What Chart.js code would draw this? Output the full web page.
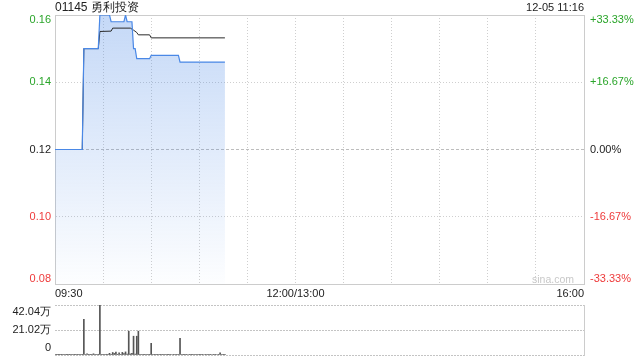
<!DOCTYPE html>
<html>
<head>
<meta charset="utf-8">
<script src="https://cdn.jsdelivr.net/npm/chart.js@4.4.0/dist/chart.umd.min.js"></script>
<style>
    body { margin: 0; background: #fff; font-family: "Liberation Sans", Arial, sans-serif; }
    #wrap { position: relative; width: 640px; height: 360px; overflow: hidden; }
    #priceBox { position: absolute; left: 0; top: 0; width: 640px; height: 300px; }
    #volBox { position: absolute; left: 0; top: 300px; width: 640px; height: 60px; }
    .title { position: absolute; left: 55px; top: 0; font-size: 12px; line-height: 14px; color: #222; }
    .stamp { position: absolute; right: 56px; top: 1px; font-size: 11px; line-height: 13px; color: #222; }
    .mark { position: absolute; left: 532px; top: 273px; font-size: 10.5px; line-height: 12px; color: #c8c8c8; }
</style>
</head>
<body>
<div id="wrap">
    <div id="priceBox"><canvas id="priceChart"></canvas></div>
    <div id="volBox"><canvas id="volumeChart"></canvas></div>
    <div class="title">01145 勇利投资</div>
    <div class="stamp">12-05 11:16</div>
    <div class="mark">sina.com</div>
</div>
<script>
// minutes since 09:30 (lunch break removed, 330 trading minutes)
const priceMinutes = [0, 17, 18, 27, 28, 34, 35, 43, 44, 45, 48, 49, 50, 51, 59, 60, 77, 78, 106];
const priceValues = [0.12, 0.12, 0.15, 0.15, 0.16, 0.16, 0.158, 0.158, 0.16, 0.158, 0.158, 0.15, 0.15, 0.147, 0.147, 0.148, 0.148, 0.146, 0.146];

const avgMinutes = [0, 17, 18, 27, 28, 35, 36, 47, 49, 51, 52, 59, 60, 106];
const avgValues = [0.12, 0.12, 0.15, 0.15, 0.1551, 0.1552, 0.1561, 0.1561, 0.1555, 0.1548, 0.1541, 0.1541, 0.1532, 0.1532];

// volume per minute, in 万 shares, 09:30 .. 11:16
const volumeValues = [
    0.5, 0.3, 0.2, 0.3, 0.2, 0.3, 0.4, 0.2, 0.3, 0.2,
    0.3, 0.4, 0.2, 0.3, 0.3, 0.2, 0.4, 0.3, 30.0, 0.4,
    0.9, 0.3, 0.3, 0.5, 1.0, 0.3, 0.4, 0.6, 42.04, 0.5,
    0.3, 0.4, 0.6, 0.3, 1.4, 0.5, 2.1, 1.3, 2.4, 0.6,
    1.9, 0.5, 2.2, 1.2, 2.6, 0.8, 20.0, 0.9, 1.3, 15.8,
    0.7, 15.8, 20.0, 0.6, 0.4, 0.5, 0.3, 0.4, 0.5, 0.3,
    9.8, 0.4, 0.3, 0.5, 0.3, 0.4, 0.3, 0.5, 0.3, 0.4,
    0.3, 0.3, 0.5, 0.4, 0.3, 0.4, 0.3, 0.5, 14.0, 0.4,
    0.3, 0.5, 0.3, 0.4, 0.3, 0.3, 0.5, 0.4, 0.3, 0.4,
    0.3, 0.5, 0.3, 0.4, 0.3, 0.4, 0.5, 0.3, 0.4, 0.3,
    0.3, 0.4, 0.3, 1.8, 0.4, 0.3, 0.5
];

const priceTicks = [0.08, 0.10, 0.12, 0.14, 0.16];
const priceLabels = ['0.08', '0.10', '0.12', '0.14', '0.16'];
const pctLabels = ['-33.33%', '-16.67%', '0.00%', '+16.67%', '+33.33%'];
const timeTicks = [0, 30, 60, 90, 120, 150, 180, 210, 240, 270, 300, 330];
const timeLabels = { 0: '09:30', 150: '12:00/13:00', 330: '16:00' };
const volumeTicks = [0, 21.02, 42.04];
const volumeLabels = ['0', '21.02万', '42.04万'];

const UP = '#2aa52a';
const DOWN = '#ee3b3b';
const FRAME = '#cccccc';
const DOTS = '#cfcfcf';

function toPoints(xs, ys) {
    return xs.map(function(x, i) { return { x: x, y: ys[i] }; });
}

// first/last labels get an empty extra line so they sit inside the frame
function edgeLabel(text, index, count) {
    if (index === 0) return [text, ''];
    if (index === count - 1) return ['', text];
    return text;
}

function tickColor(c) {
    if (c.index > 2) return UP;
    if (c.index < 2) return DOWN;
    return '#222';
}

// fixed axis width, and no extra room for the edge labels
function fixWidth(w) {
    return function(scale) {
        scale.width = w;
        scale.paddingTop = 0;
        scale.paddingBottom = 0;
    };
}

document.addEventListener('DOMContentLoaded', function() {
    Chart.defaults.font.family = '"Liberation Sans", Arial, sans-serif';
    Chart.defaults.font.size = 11;

    const priceCtx = document.getElementById('priceChart');
    new Chart(priceCtx, {
        type: 'line',
        data: {
            datasets: [
                {
                    label: 'price',
                    data: toPoints(priceMinutes, priceValues),
                    borderColor: '#4a88e6',
                    borderWidth: 1.2,
                    pointRadius: 0,
                    tension: 0,
                    fill: 'start',
                    order: 0,
                    backgroundColor: function(context) {
                        const area = context.chart.chartArea;
                        if (!area) return 'rgba(74,136,230,0.2)';
                        const g = context.chart.ctx.createLinearGradient(0, area.top, 0, area.bottom);
                        g.addColorStop(0, 'rgba(74,136,230,0.32)');
                        g.addColorStop(1, 'rgba(74,136,230,0.01)');
                        return g;
                    }
                },
                {
                    label: 'avg',
                    data: toPoints(avgMinutes, avgValues),
                    borderColor: '#2a2a2a',
                    borderWidth: 1,
                    pointRadius: 0,
                    tension: 0,
                    fill: false,
                    order: 1
                }
            ]
        },
        options: {
            responsive: true,
            maintainAspectRatio: false,
            animation: false,
            layout: { padding: { top: 15, left: 0, right: 0, bottom: 0 } },
            plugins: {
                legend: { display: false },
                tooltip: { enabled: false },
                filler: { drawTime: 'beforeDatasetsDraw' }
            },
            scales: {
                x: {
                    type: 'linear',
                    position: 'bottom',
                    min: 0,
                    max: 330,
                    afterBuildTicks: function(scale) {
                        scale.ticks = timeTicks.map(function(v) { return { value: v }; });
                    },
                    afterFit: function(scale) { scale.height = 16; },
                    ticks: {
                        autoSkip: false,
                        maxRotation: 0,
                        align: 'inner',
                        padding: 3,
                        color: '#222',
                        callback: function(value) { return timeLabels[value] || ''; }
                    },
                    grid: {
                        drawTicks: false,
                        color: DOTS,
                        lineWidth: 1
                    },
                    border: { color: FRAME, dash: [1, 2] }
                },
                xTop: {
                    type: 'linear',
                    position: 'top',
                    min: 0,
                    max: 330,
                    afterFit: function(scale) { scale.height = 0; },
                    ticks: { display: false },
                    grid: { display: false, drawTicks: false },
                    border: { color: FRAME }
                },
                y: {
                    position: 'left',
                    min: 0.08,
                    max: 0.16,
                    afterBuildTicks: function(scale) {
                        scale.ticks = priceTicks.map(function(v) { return { value: v }; });
                    },
                    afterFit: fixWidth(55),
                    ticks: {
                        autoSkip: false,
                        padding: 4,
                        font: { size: 11, lineHeight: 0.95 },
                        color: tickColor,
                        callback: function(value, index) { return edgeLabel(priceLabels[index], index, priceLabels.length); }
                    },
                    grid: {
                        drawTicks: false,
                        color: function(c) { return c.index === 2 ? '#bdbdbd' : DOTS; }
                    },
                    border: {
                        color: FRAME,
                        dash: function(c) { return c.index === 2 ? [3, 2] : [1, 2]; }
                    }
                },
                yPct: {
                    position: 'right',
                    min: 0.08,
                    max: 0.16,
                    afterBuildTicks: function(scale) {
                        scale.ticks = priceTicks.map(function(v) { return { value: v }; });
                    },
                    afterFit: fixWidth(56),
                    ticks: {
                        autoSkip: false,
                        padding: 6,
                        font: { size: 11, lineHeight: 0.95 },
                        color: tickColor,
                        callback: function(value, index) { return edgeLabel(pctLabels[index], index, pctLabels.length); }
                    },
                    grid: { drawOnChartArea: false, drawTicks: false },
                    border: { color: FRAME }
                }
            }
        }
    });

    const volumeCtx = document.getElementById('volumeChart');
    new Chart(volumeCtx, {
        type: 'bar',
        data: {
            datasets: [{
                label: 'volume',
                data: volumeValues.map(function(v, i) { return { x: i, y: v }; }),
                backgroundColor: '#555555',
                barThickness: 1,
                borderWidth: 0
            }]
        },
        options: {
            responsive: true,
            maintainAspectRatio: false,
            animation: false,
            layout: { padding: { top: 5, left: 0, right: 0, bottom: 5 } },
            plugins: {
                legend: { display: false },
                tooltip: { enabled: false }
            },
            scales: {
                x: {
                    type: 'linear',
                    min: 0,
                    max: 330,
                    offset: false,
                    display: false
                },
                y: {
                    position: 'left',
                    min: 0,
                    max: 42.04,
                    afterBuildTicks: function(scale) {
                        scale.ticks = volumeTicks.map(function(v) { return { value: v }; });
                    },
                    afterFit: fixWidth(55),
                    ticks: {
                        autoSkip: false,
                        padding: 4,
                        color: '#222',
                        font: { size: 11, lineHeight: 1.2 },
                        callback: function(value, index) { return edgeLabel(volumeLabels[index], index, volumeLabels.length); }
                    },
                    grid: { drawTicks: false, color: '#c4c4c4' },
                    border: { display: false, dash: [2, 1] }
                },
                yRight: {
                    position: 'right',
                    min: 0,
                    max: 42.04,
                    afterFit: fixWidth(56),
                    ticks: { display: false },
                    grid: { drawOnChartArea: false, drawTicks: false },
                    border: { color: FRAME }
                }
            }
        }
    });
});
</script>
</body>
</html>
